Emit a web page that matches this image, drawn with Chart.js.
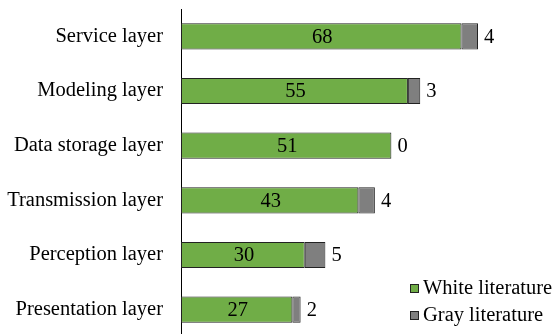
<!DOCTYPE html>
<html>
<head>
<meta charset="utf-8">
<script src="https://cdn.jsdelivr.net/npm/chart.js@4.4.1/dist/chart.umd.min.js"></script>
<style>
  html, body { margin: 0; padding: 0; overflow: hidden; background: #fff; }
  #wrap { width: 553px; height: 337px; }
</style>
</head>
<body>
<div id="wrap"><canvas id="myChart"></canvas></div>
<script>
const layers = ['Service layer', 'Modeling layer', 'Data storage layer', 'Transmission layer', 'Perception layer', 'Presentation layer'];
const whiteLit = [68, 55, 51, 43, 30, 27];
const grayLit = [4, 3, 0, 4, 5, 2];
const seriesNames = ['White literature', 'Gray literature'];

const FONT = '"Liberation Serif", "Times New Roman", serif';

// value labels: white inside the green bar, gray just past the bar end
const barLabels = {
  id: 'barLabels',
  afterDatasetsDraw(chart) {
    const ctx = chart.ctx;
    const m0 = chart.getDatasetMeta(0);
    const m1 = chart.getDatasetMeta(1);
    ctx.save();
    ctx.font = '20.5px ' + FONT;
    ctx.fillStyle = '#000';
    ctx.textBaseline = 'middle';
    m0.data.forEach((bar, i) => {
      ctx.textAlign = 'center';
      ctx.fillText(whiteLit[i], (bar.x + bar.base) / 2 + 1, bar.y + 1);
      const end = m1.data[i].x;
      ctx.textAlign = 'left';
      ctx.fillText(grayLit[i], end + 6, bar.y + 1);
    });
    ctx.restore();
  }
};

// legend drawn in the lower right corner
const cornerLegend = {
  id: 'cornerLegend',
  afterDraw(chart) {
    const ctx = chart.ctx;
    const colors = ['#70AD47', '#7F7F7F'];
    ctx.save();
    ctx.font = '20.5px ' + FONT;
    ctx.textBaseline = 'middle';
    ctx.textAlign = 'left';
    seriesNames.forEach((name, i) => {
      const y = 289 + i * 27;
      ctx.fillStyle = colors[i];
      ctx.fillRect(410, y - 5, 9, 9);
      ctx.strokeStyle = '#222';
      ctx.lineWidth = 1;
      ctx.strokeRect(410.5, y - 4.5, 8, 8);
      ctx.fillStyle = '#000';
      ctx.fillText(name, 423, y);
    });
    ctx.restore();
  }
};

new Chart(document.getElementById('myChart'), {
  type: 'bar',
  data: {
    labels: layers,
    datasets: [
      {
        label: seriesNames[0],
        data: whiteLit,
        backgroundColor: '#70AD47',
        borderColor: '#222',
        borderWidth: 1,
        borderSkipped: false,
        categoryPercentage: 1,
        barPercentage: 0.48
      },
      {
        label: seriesNames[1],
        data: grayLit,
        backgroundColor: '#7F7F7F',
        borderColor: '#222',
        borderWidth: 1,
        borderSkipped: false,
        categoryPercentage: 1,
        barPercentage: 0.48
      }
    ]
  },
  options: {
    indexAxis: 'y',
    responsive: true,
    maintainAspectRatio: false,
    animation: false,
    layout: { padding: { top: 9, bottom: 0, left: 0, right: 42 } },
    scales: {
      x: {
        stacked: true,
        display: false,
        min: 0,
        max: 80
      },
      y: {
        stacked: true,
        grid: { display: false, drawTicks: false },
        border: { display: true, color: '#000', width: 1 },
        ticks: {
          color: '#000',
          padding: 18,
          font: { family: FONT, size: 20.5 }
        },
        afterFit(scale) {
          scale.width = 181;
          scale.paddingTop = 0;
          scale.paddingBottom = 0;
        }
      }
    },
    plugins: {
      legend: { display: false },
      tooltip: { enabled: false }
    }
  },
  plugins: [barLabels, cornerLegend]
});
</script>
</body>
</html>
